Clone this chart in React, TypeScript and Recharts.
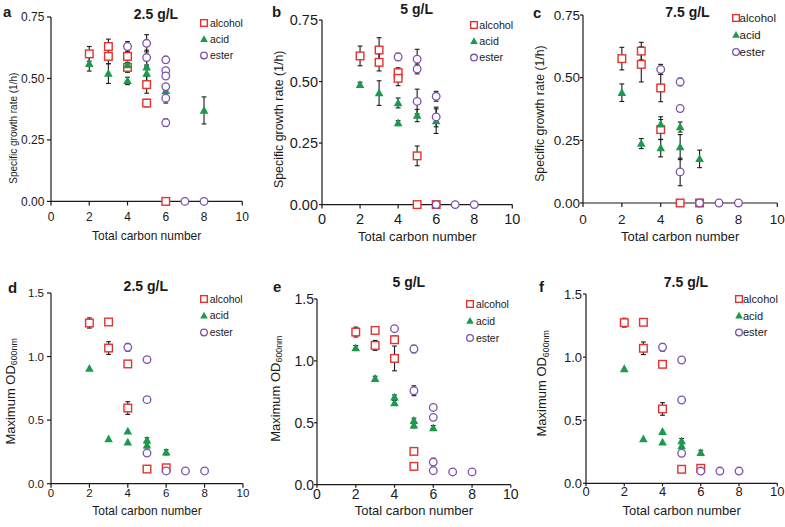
import React from 'react';
import { ScatterChart, Scatter, XAxis, YAxis, ErrorBar, Legend } from 'recharts';

const FONT = '"Liberation Sans", Arial, Helvetica, sans-serif';
const RED = '#e2332e';
const GREEN = '#1a9b4b';
const PURPLE = '#7b52ad';
const INK = '#1a1a1a';

const SERIES = ['alcohol', 'acid', 'ester'];
const CARBON_TICKS = [0, 2, 4, 6, 8, 10];
const RATE_TICKS = [0, 0.25, 0.5, 0.75];
const OD_TICKS = [0, 0.5, 1.0, 1.5];

// [total carbon number, mean, error]
const aAlcohol = [[2, 0.60, 0.03], [3, 0.63, 0.03], [3, 0.59, 0.03], [4, 0.59, 0.03], [4, 0.545, 0.02], [5, 0.475, 0.035], [5, 0.40, 0.015], [6, 0, 0]];
const aAcid = [[2, 0.56, 0.03], [3, 0.52, 0.04], [4, 0.555, 0.02], [4, 0.49, 0.015], [5, 0.545, 0.03], [5, 0.52, 0.03], [6, 0.45, 0.02], [8, 0.37, 0.055]];
const aEster = [[4, 0.63, 0.02], [5, 0.643, 0.035], [5, 0.585, 0.03], [6, 0.576, 0], [6, 0.532, 0], [6, 0.51, 0], [6, 0.467, 0], [6, 0.42, 0.02], [6, 0.32, 0.015], [7, 0, 0], [8, 0, 0]];

const bAlcohol = [[2, 0.604, 0.04], [3, 0.628, 0.05], [3, 0.578, 0.035], [4, 0.536, 0.02], [4, 0.513, 0.03], [5, 0.198, 0.04], [5, 0, 0], [6, 0, 0]];
const bAcid = [[2, 0.487, 0.01], [3, 0.453, 0.05], [4, 0.413, 0.02], [4, 0.331, 0.01], [5, 0.362, 0.025], [6, 0.339, 0.05]];
const bEster = [[4, 0.60, 0.015], [5, 0.591, 0.04], [5, 0.551, 0.02], [5, 0.419, 0.05], [6, 0.44, 0.02], [6, 0.356, 0.04], [6, 0, 0], [7, 0, 0], [8, 0, 0]];

const cAlcohol = [[2, 0.576, 0.045], [3, 0.606, 0.035], [3, 0.553, 0.07], [4, 0.459, 0.055], [4, 0.293, 0.04], [5, 0, 0], [6, 0, 0]];
const cAcid = [[2, 0.44, 0.035], [3, 0.237, 0.02], [4, 0.314, 0.03], [4, 0.219, 0.035], [5, 0.303, 0.02], [5, 0.223, 0.05], [6, 0.176, 0.035]];
const cEster = [[4, 0.533, 0.02], [5, 0.483, 0.015], [5, 0.377, 0], [5, 0.124, 0.055], [6, 0, 0], [7, 0, 0], [8, 0, 0]];

const dAlcohol = [[2, 1.264, 0.04], [3, 1.272, 0.02], [3, 1.067, 0.05], [4, 0.942, 0.02], [4, 0.595, 0.05], [5, 0.115, 0], [6, 0.125, 0]];
const dAcid = [[2, 0.905, 0], [3, 0.351, 0], [4, 0.412, 0], [4, 0.325, 0], [5, 0.341, 0.02], [5, 0.302, 0.02], [6, 0.247, 0.02]];
const dEster = [[4, 1.073, 0.03], [5, 0.976, 0], [5, 0.661, 0], [5, 0.241, 0], [6, 0.10, 0], [7, 0.10, 0], [8, 0.10, 0]];

const eAlcohol = [[2, 1.233, 0.04], [3, 1.246, 0], [3, 1.125, 0.04], [4, 1.171, 0.03], [4, 1.02, 0.1], [5, 0.269, 0], [5, 0.148, 0]];
const eAcid = [[2, 1.104, 0.02], [3, 0.856, 0.02], [4, 0.705, 0.02], [4, 0.66, 0.02], [5, 0.517, 0.02], [5, 0.479, 0.02], [6, 0.458, 0.02]];
const eEster = [[4, 1.26, 0.02], [5, 1.096, 0.03], [5, 0.759, 0.04], [6, 0.624, 0], [6, 0.544, 0], [6, 0.183, 0.03], [6, 0.113, 0], [7, 0.103, 0], [8, 0.103, 0]];

const fAlcohol = [[2, 1.273, 0.035], [3, 1.276, 0.02], [3, 1.07, 0.05], [4, 0.943, 0.02], [4, 0.589, 0.05], [5, 0.111, 0], [6, 0.119, 0]];
const fAcid = [[2, 0.906, 0], [3, 0.351, 0], [4, 0.409, 0], [4, 0.325, 0], [5, 0.335, 0.02], [5, 0.296, 0.02], [6, 0.242, 0.02]];
const fEster = [[4, 1.078, 0.03], [5, 0.977, 0], [5, 0.66, 0], [5, 0.238, 0], [6, 0.097, 0], [7, 0.097, 0], [8, 0.097, 0]];

const pts = (rows: number[][]) => rows.map(([x, y, e]) => ({ x, y, e }));

const mark = (name: string, cx: number, cy: number, k = 1) => {
  if (name === 'alcohol') {
    const s = 3.8 * k;
    return <rect x={cx - s} y={cy - s} width={2 * s} height={2 * s} fill="#fff" stroke={RED} strokeWidth={1.4} />;
  }
  if (name === 'acid') {
    return <path d={`M${cx},${cy - 4.6 * k}L${cx + 4.3 * k},${cy + 3.2 * k}L${cx - 4.3 * k},${cy + 3.2 * k}Z`} fill={GREEN} />;
  }
  return <circle cx={cx} cy={cy} r={3.8 * k} fill="#fff" stroke={PURPLE} strokeWidth={1.3} />;
};

const LegendBox = ({ fs, gap, step }: any) => (
  <svg width={90} height={56} style={{ display: 'block', overflow: 'visible' }}>
    {SERIES.map((s, i) => (
      <g key={s}>
        {mark(s, 6, 6 + i * step, 0.88)}
        <text x={6 + gap} y={6 + i * step + fs * 0.36} fontSize={fs} fontFamily={FONT} fill={INK}>{s}</text>
      </g>
    ))}
  </svg>
);

const YLabel = ({ lx, ly, lfs, lkind }: any) => (
  <text transform={`translate(${lx},${ly}) rotate(-90)`} textAnchor="middle" dominantBaseline="central" fontSize={lfs} fontFamily={FONT} fill={INK}>
    {lkind === 'rate' ? 'Specific growth rate (1/h)' : (
      <>Maximum OD<tspan fontSize={lfs * 0.68} dy={lfs * 0.3}>600nm</tspan></>
    )}
  </text>
);

const XLabel = ({ lx, ly, lfs }: any) => (
  <text x={lx} y={ly} textAnchor="middle" fontSize={lfs} fontFamily={FONT} fill={INK}>Total carbon number</text>
);

const PANELS = [
  { id: 'a', title: '2.5 g/L', kind: 'rate', plot: [50.7, 17.3, 242, 201.7], tickFs: 12, yTick: [4, 2.7], xTick: [4, 7], yl: [13.3, 128.5, 10], xl: [240.5, 12], titlePos: [156, 19], letterPos: [3, 17], leg: [204, 23.3, 6, 10.4, 16.2], data: [aAlcohol, aAcid, aEster] },
  { id: 'b', title: '5 g/L', kind: 'rate', plot: [321.7, 19.7, 512, 204.3], tickFs: 14.5, yTick: [3, 1], xTick: [4, 5], yl: [279, 119, 12.4], xl: [240.5, 13], titlePos: [416.7, 14], letterPos: [272, 17], leg: [474, 25, 5.3, 10.7, 16.3], data: [bAlcohol, bAcid, bEster] },
  { id: 'c', title: '7.5 g/L', kind: 'rate', plot: [582.7, 14.7, 777, 202.7], tickFs: 13.5, yTick: [3, 0], xTick: [4, 7], yl: [540, 113.3, 12.3], xl: [240.5, 13], titlePos: [687.5, 16.5], letterPos: [533, 18], leg: [736, 18.3, 3.6, 11.5, 17], data: [cAlcohol, cAcid, cEster] },
  { id: 'd', title: '2.5 g/L', kind: 'od', plot: [51, 293.3, 243, 484], tickFs: 11.5, yTick: [4, 3], xTick: [4, 1.5], yl: [10, 391.7, 13], xl: [515, 12], titlePos: [145.8, 290.5], letterPos: [8, 293], leg: [204.3, 299, 5.7, 10.4, 16.7], data: [dAlcohol, dAcid, dEster] },
  { id: 'e', title: '5 g/L', kind: 'od', plot: [316.7, 299.3, 510.5, 485], tickFs: 14, yTick: [3, 0], xTick: [3, 1], yl: [275, 389, 13], xl: [515, 13], titlePos: [408.8, 286.5], letterPos: [273, 292], leg: [470.5, 304.3, 6, 10.4, 17], data: [eAlcohol, eAcid, eEster] },
  { id: 'f', title: '7.5 g/L', kind: 'od', plot: [585.7, 294, 777, 483.3], tickFs: 13, yTick: [3, 1], xTick: [3, 0.5], yl: [541.7, 383.3, 13], xl: [515, 13], titlePos: [686, 287], letterPos: [539, 292], leg: [739.2, 299, 4, 11, 16.7], data: [fAlcohol, fAcid, fEster] },
];

const Panel = ({ p }: { p: any }) => {
  const [l, t, r, b] = p.plot;
  const cl = l - 58;
  const ct = t - 14;
  const w = r - l + 68;
  const h = b - t + 59;
  const od = p.kind === 'od';
  const axisStyle = { stroke: INK, strokeWidth: 1.2 };
  return (
    <>
      <div style={{ position: 'absolute', left: p.letterPos[0], top: p.letterPos[1] - 13.5, fontSize: 15, fontWeight: 'bold', lineHeight: '16px', color: INK }}>{p.id}</div>
      <div style={{ position: 'absolute', left: p.titlePos[0] - 60, width: 120, textAlign: 'center', top: p.titlePos[1] - 12, fontSize: 14, fontWeight: 'bold', lineHeight: '14px', color: INK }}>{p.title}</div>
      <div style={{ position: 'absolute', left: cl, top: ct }}>
        <ScatterChart width={w} height={h} margin={{ top: 14, right: 10, left: 0, bottom: 0 }}>
          <XAxis
            type="number"
            dataKey="x"
            domain={[0, 10]}
            ticks={CARBON_TICKS}
            interval={0}
            height={45}
            axisLine={axisStyle}
            tickLine={axisStyle}
            tickSize={p.xTick[0]}
            tickMargin={p.xTick[1]}
            tick={{ fill: INK, fontSize: p.tickFs, fontFamily: FONT }}
            label={<XLabel lx={58 + (r - l) / 2} ly={p.xl[0] - ct} lfs={p.xl[1]} />}
          />
          <YAxis
            type="number"
            dataKey="y"
            domain={od ? [0, 1.5] : [0, 0.75]}
            ticks={od ? OD_TICKS : RATE_TICKS}
            interval={0}
            width={58}
            axisLine={axisStyle}
            tickLine={axisStyle}
            tickSize={p.yTick[0]}
            tickMargin={p.yTick[1]}
            tickFormatter={(v: number) => v.toFixed(od ? 1 : 2)}
            tick={{ fill: INK, fontSize: p.tickFs, fontFamily: FONT }}
            label={<YLabel lx={p.yl[0] - cl} ly={p.yl[1] - ct} lfs={p.yl[2]} lkind={p.kind} />}
          />
          <Legend
            layout="vertical"
            align="center"
            verticalAlign="middle"
            wrapperStyle={{ left: p.leg[0] - cl - 6, top: p.leg[1] - ct - 6, width: 90, height: 56 }}
            content={<LegendBox gap={p.leg[2]} fs={p.leg[3]} step={p.leg[4]} />}
          />
          {SERIES.map((s, i) => (
            <Scatter key={s} name={s} data={pts(p.data[i])} shape={(q: any) => mark(s, q.cx, q.cy)} isAnimationActive={false}>
              <ErrorBar dataKey="e" direction="y" width={2.4} stroke={INK} strokeWidth={1.1} />
            </Scatter>
          ))}
        </ScatterChart>
      </div>
    </>
  );
};

export default function App() {
  return (
    <div style={{ position: 'absolute', left: 0, top: 0, width: 785, height: 527, background: '#fff', fontFamily: FONT, overflow: 'hidden' }}>
      {PANELS.map((p) => <Panel key={p.id} p={p} />)}
    </div>
  );
}
